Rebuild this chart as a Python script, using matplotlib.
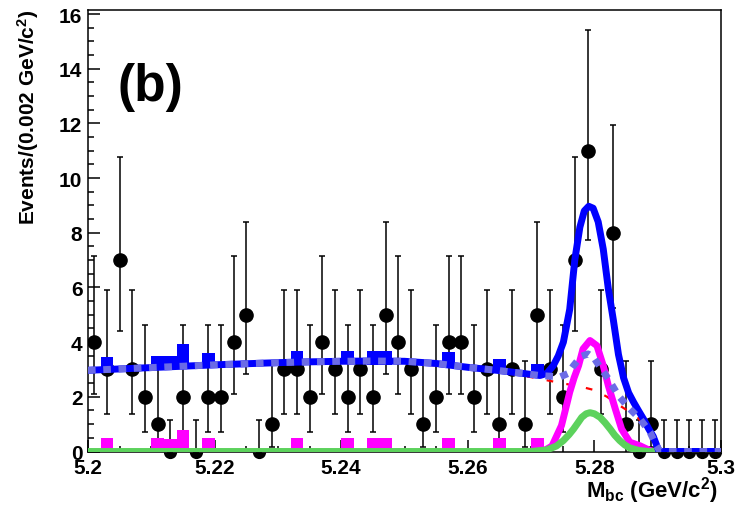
import numpy as np
import matplotlib
matplotlib.use("Agg")
import matplotlib.pyplot as plt
from matplotlib.ticker import MultipleLocator

# events per 0.002 GeV/c^2 bin, 5.200 - 5.300
counts = [4, 3, 7, 3, 2, 1, 0, 2, 0, 2,
          2, 4, 5, 0, 1, 3, 3, 2, 4, 3,
          2, 3, 2, 5, 4, 3, 1, 2, 4, 4,
          2, 3, 1, 3, 1, 5, 3, 2, 7, 11,
          3, 8, 1, 0, 1, 0, 0, 0, 0, 0]
# 68% Poisson intervals indexed by n
pois_lo = [0.0, 0.173, 0.708, 1.367, 2.086, 2.840, 3.620, 4.419, 5.232, 6.057, 6.891, 7.734]
pois_hi = [1.15, 3.300, 4.638, 5.918, 7.163, 8.382, 9.584, 10.77, 11.95, 13.11, 14.27, 15.42]

# smooth background shared by the total and the dotted curve in the sideband
side_x = [5.200, 5.205, 5.210, 5.215, 5.220, 5.225, 5.230, 5.235, 5.240, 5.245,
          5.250, 5.255, 5.260, 5.265, 5.270, 5.2714]
side_y = [2.97, 3.02, 3.07, 3.12, 3.17, 3.21, 3.25, 3.28, 3.30, 3.31,
          3.30, 3.22, 3.08, 2.96, 2.82, 2.78]

# total fit in the signal region
tot_x = [5.2714, 5.2725, 5.2735, 5.2743, 5.2751, 5.2761, 5.2769, 5.2777, 5.2784, 5.2791,
         5.2798, 5.2806, 5.2814, 5.2822, 5.2830, 5.2838, 5.2846, 5.2854, 5.2862, 5.2870,
         5.2878, 5.2886, 5.2893, 5.2898, 5.2902, 5.3000]
tot_y = [2.78, 2.86, 3.14, 3.50, 4.00, 5.20, 7.00, 8.20, 8.80, 8.97,
         8.90, 8.40, 7.40, 5.95, 4.80, 3.55, 2.70, 2.15, 1.80, 1.48,
         1.17, 0.82, 0.55, 0.25, 0.00, 0.00]

# total background (dotted)
bkg_x = [5.2714, 5.2746, 5.2758, 5.2767, 5.2779, 5.2790, 5.2800, 5.2809, 5.2822, 5.2838,
         5.2856, 5.2872, 5.2888, 5.2898, 5.2904, 5.3000]
bkg_y = [2.78, 2.73, 2.85, 3.14, 3.48, 3.57, 3.40, 3.08, 2.66, 2.04,
         1.56, 1.19, 0.70, 0.21, 0.00, 0.00]

# continuum (red dashed)
cont_x = [5.200, 5.210, 5.220, 5.230, 5.240, 5.250, 5.260, 5.265, 5.270, 5.2748,
          5.2777, 5.2801, 5.2820, 5.2840, 5.2867, 5.2885, 5.2899, 5.2904]
cont_y = [2.93, 3.03, 3.13, 3.21, 3.26, 3.25, 3.04, 2.91, 2.72, 2.50,
          2.38, 2.24, 2.00, 1.68, 1.28, 0.80, 0.30, 0.00]

# magenta component: peak and sideband bins
sig_x = [5.2722, 5.2733, 5.2740, 5.2748, 5.2755, 5.2761, 5.2768, 5.2775, 5.2782, 5.2793,
         5.2804, 5.2814, 5.2822, 5.2833, 5.2843, 5.2856, 5.2872, 5.2882, 5.2892]
sig_y = [0.05, 0.20, 0.55, 0.95, 1.60, 2.17, 2.70, 3.14, 3.75, 4.06,
         3.87, 3.14, 2.41, 1.56, 0.82, 0.34, 0.21, 0.10, 0.00]
bump_x = [5.203, 5.211, 5.213, 5.215, 5.219, 5.233, 5.241, 5.245, 5.247, 5.257, 5.265, 5.271]
bump_mag = [0.50, 0.50, 0.45, 0.80, 0.50, 0.50, 0.50, 0.50, 0.50, 0.50, 0.50, 0.50]
bump_tot = [3.45, 3.50, 3.50, 3.95, 3.60, 3.69, 3.69, 3.67, 3.67, 3.64, 3.39, 3.20]

# green component
grn_x = [5.200, 5.2700, 5.2725, 5.2740, 5.2751, 5.2760, 5.2767, 5.2774, 5.2780, 5.2787,
         5.2793, 5.2800, 5.2809, 5.2817, 5.2825, 5.2832, 5.2840, 5.2848, 5.2856, 5.2870,
         5.2885, 5.300]
grn_y = [0.0, 0.0, 0.06, 0.20, 0.40, 0.62, 0.82, 1.05, 1.25, 1.38,
         1.42, 1.38, 1.25, 1.05, 0.82, 0.60, 0.40, 0.24, 0.13, 0.04,
         0.0, 0.0]

font = "Liberation Sans"
plt.rcParams["mathtext.fontset"] = "custom"
plt.rcParams["mathtext.rm"] = font + ":bold"
plt.rcParams["mathtext.it"] = font + ":bold"
plt.rcParams["mathtext.bf"] = font + ":bold"

bin_w = 0.002
centers = 5.2 + bin_w * (np.arange(len(counts)) + 0.5)
n = np.array(counts)
err_lo = n - np.array(pois_lo)[n]
err_hi = np.array(pois_hi)[n] - n

fig = plt.figure(figsize=(7.44, 5.06), dpi=100)
ax = fig.add_axes([88 / 744, 1 - 452.5 / 506, 633 / 744, 441.5 / 506])

eb = ax.errorbar(centers, counts, yerr=[err_lo, err_hi], fmt="none", ecolor="black",
                 elinewidth=1.1, capsize=2.3, capthick=1.1, zorder=2)
for art in tuple(eb.lines[1]) + tuple(eb.lines[2]):
    art.set_clip_on(False)
nz = n > 0
ax.plot(centers[nz], n[nz], "o", color="black", ms=9.5, zorder=2)
# empty bins: only the lower half of the marker shows under the axis
ax.plot(centers[~nz], n[~nz], "o", color="black", ms=9.5, fillstyle="bottom",
        markerfacecoloralt="none", mew=0, zorder=2, clip_on=False)

ax.plot(cont_x, cont_y, color="red", lw=1.6, ls=(0, (3, 6)), zorder=3)
ax.bar(bump_x, bump_mag, width=bin_w, color="#ff00ff", lw=0, zorder=4)
ax.plot(sig_x, sig_y, color="#ff00ff", lw=5, zorder=4)
ax.plot(grn_x, grn_y, color="#5cd25c", lw=5, zorder=5)
ax.bar(bump_x, bump_mag, bottom=np.array(bump_tot) - np.array(bump_mag), width=bin_w,
       color="#0000ff", lw=0, zorder=6)
ax.plot(side_x + tot_x, side_y + tot_y, color="#0000ff", lw=5, zorder=6)
ax.plot(side_x + bkg_x, side_y + bkg_y, color="#6b6be6", lw=5, ls=(0, (1.1, 1.1)), zorder=7)

ax.set_xlim(5.2, 5.3)
ax.set_ylim(0, 16.15)
ax.xaxis.set_minor_locator(MultipleLocator(0.005))
ax.yaxis.set_major_locator(MultipleLocator(2))
ax.yaxis.set_minor_locator(MultipleLocator(0.5))
ax.set_xticks([5.2, 5.22, 5.24, 5.26, 5.28, 5.3])
ax.set_xticklabels(["5.2", "5.22", "5.24", "5.26", "5.28", "5.3"])
ax.tick_params(which="both", direction="in", top=False, right=False, width=1.1)
ax.tick_params(which="major", length=8.5)
ax.tick_params(which="minor", length=4.3)
ax.tick_params(axis="y", pad=4)
ax.tick_params(axis="x", pad=4.5)
for lab in ax.get_xticklabels() + ax.get_yticklabels():
    lab.set_fontfamily(font)
    lab.set_fontweight("bold")
    lab.set_fontsize(15)
for sp in ax.spines.values():
    sp.set_linewidth(1.1)

fig.text(28 / 744, 1 - 10 / 506, "Events/(0.002 GeV/c$^{2}$)", rotation=90,
         ha="center", va="top", family=font, weight="bold", fontsize=15)
fig.text(718 / 744, 1 - 498 / 506, "M$_{bc}$ (GeV/c$^{2}$)",
         ha="right", va="baseline", family=font, weight="bold", fontsize=16)
ax.text(0.046, 0.827, "(b)", transform=ax.transAxes, ha="left", va="center",
        family=font, weight="bold", fontsize=37)

fig.savefig("out.png", dpi=100)
